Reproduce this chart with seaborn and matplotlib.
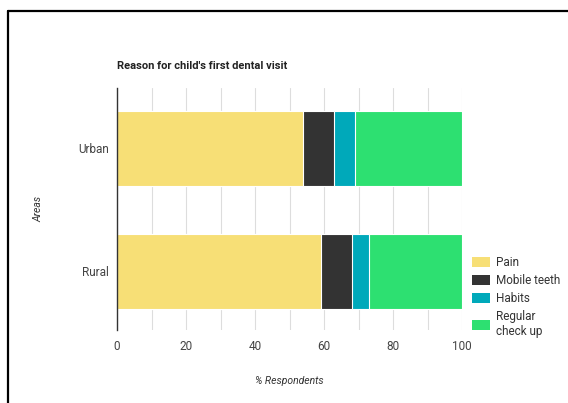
import matplotlib
matplotlib.use("Agg")
import matplotlib.pyplot as plt
from matplotlib.lines import Line2D
from matplotlib.patches import Patch
import numpy as np
import pandas as pd
import seaborn as sns

areas = ["Urban", "Rural"]
reasons = ["Pain", "Mobile teeth", "Habits", "Regular\ncheck up"]
pain = [54, 59]
mobile_teeth = [9, 9]
habits = [6, 5]
regular_check_up = [31, 27]
colors = ["#F7DF76", "#333333", "#00A9BA", "#2DE071"]
x_ticks = [0, 20, 40, 60, 80, 100]

sns.set_theme(style="white")
plt.rcParams["font.family"] = ["Roboto", "DejaVu Sans"]

fig = plt.figure(figsize=(5.68, 4.03), dpi=100)
ax = fig.add_axes([117 / 568, 1 - 330 / 403, 345 / 568, 242 / 403])

series = [pain, mobile_teeth, habits, regular_check_up]
cum = np.cumsum(np.array(series), axis=0)

# draw cumulative totals from the widest down so each segment shows through
for i in range(len(series) - 1, -1, -1):
    df = pd.DataFrame({"area": areas, "value": cum[i]})
    sns.barplot(data=df, x="value", y="area", orient="h", color=colors[i],
                width=0.61, edgecolor="white", linewidth=0.8, saturation=1,
                ax=ax, zorder=2)

ax.set_xlim(0, 100)
ax.set_ylim(1.48, -0.49)
ax.set_xticks(x_ticks)
ax.set_xticks(np.arange(10, 100, 20), minor=True)
ax.grid(True, axis="x", which="both", color="#DDDDDD", linewidth=0.8, zorder=0)
ax.set_axisbelow(True)
for s in ["top", "right", "bottom"]:
    ax.spines[s].set_visible(False)
ax.spines["left"].set_color("#333333")
ax.spines["left"].set_linewidth(1.0)
ax.tick_params(axis="both", which="both", length=0, labelsize=8.5,
               labelcolor="#444444")
ax.tick_params(axis="x", pad=7)
ax.tick_params(axis="y", pad=6)

ax.set_xlabel("% Respondents", fontsize=7.5, style="italic", color="#333333",
              labelpad=17)
ax.set_ylabel("Areas", fontsize=7.5, style="italic", color="#333333",
              labelpad=25)

fig.text(117 / 568, 1 - 66 / 403, "Reason for child's first dental visit",
         fontsize=8, fontweight="bold", color="#222222", va="center", ha="left")

handles = [Patch(facecolor=c, edgecolor="none") for c in colors]
fig.legend(handles, reasons, loc="upper left",
           bbox_to_anchor=(472 / 568, 1 - 256 / 403), frameon=False,
           fontsize=8.5, labelcolor="#333333", handlelength=1.5,
           handleheight=0.9, handletextpad=0.5, labelspacing=0.42,
           borderpad=0, borderaxespad=0)

# outer frame: top and left edges
fig.add_artist(Line2D([7.5 / 568, 1.0], [1 - 10.5 / 403, 1 - 10.5 / 403],
                      color="black", linewidth=1.6, transform=fig.transFigure))
fig.add_artist(Line2D([7.5 / 568, 7.5 / 568], [0, 1 - 10.5 / 403],
                      color="black", linewidth=1.6, transform=fig.transFigure))

fig.savefig("out.png", dpi=100)
